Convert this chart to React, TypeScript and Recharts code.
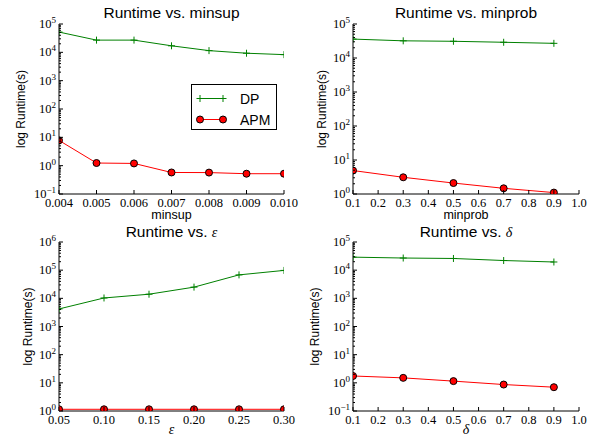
import React from "react";
import { LineChart, Line, XAxis, YAxis, Legend } from "recharts";

// values (log runtime in seconds)
const minsupX = [0.004, 0.005, 0.006, 0.007, 0.008, 0.009, 0.01];
const minsupDP = [52000, 27000, 27000, 17000, 11500, 9300, 8300];
const minsupAPM = [7.8, 1.24, 1.2, 0.575, 0.57, 0.52, 0.52];
const minsupTicks = [0.004, 0.005, 0.006, 0.007, 0.008, 0.009, 0.01];

const minprobX = [0.1, 0.3, 0.5, 0.7, 0.9];
const minprobDP = [36000, 32000, 31000, 29000, 27000];
const minprobAPM = [4.9, 3.1, 2.1, 1.47, 1.1];

const epsX = [0.05, 0.1, 0.15, 0.2, 0.25, 0.3];
const epsDP = [4200, 10300, 14000, 25000, 68000, 98000];
const epsAPM = [1.15, 1.15, 1.15, 1.15, 1.15, 1.15];
const epsTicks = [0.05, 0.1, 0.15, 0.2, 0.25, 0.3];

const deltaX = [0.1, 0.3, 0.5, 0.7, 0.9];
const deltaDP = [29000, 27000, 26000, 22000, 19500];
const deltaAPM = [1.75, 1.5, 1.15, 0.87, 0.7];

const probTicks = [0.1, 0.2, 0.3, 0.4, 0.5, 0.6, 0.7, 0.8, 0.9, 1.0];

const seriesOrder = ["DP", "APM"];

const GREEN = "#008000";
const RED = "#ff0000";
const SANS = "'Liberation Sans', Arial, sans-serif";
const SERIF = "'Liberation Serif', 'Times New Roman', serif";

function logTicks(lo: number, hi: number) {
  const out: number[] = [];
  const e0 = Math.round(Math.log10(lo));
  const e1 = Math.round(Math.log10(hi));
  for (let e = e0; e < e1; e++) {
    for (let m = 1; m < 10; m++) out.push(m * Math.pow(10, e));
  }
  out.push(hi);
  return out;
}

const isMajor = (v: number) =>
  Math.abs(Math.log10(v) - Math.round(Math.log10(v))) < 1e-6;

const LeftTick = (p: any) => {
  const { x, y, payload } = p;
  const v = payload.value;
  const major = isMajor(v);
  const exp = Math.round(Math.log10(v));
  return (
    <g>
      <line x1={x} x2={x + (major ? 4 : 2)} y1={y} y2={y} stroke="#000" />
      {major && (
        <text x={x - 3} y={y + 4} textAnchor="end" fontFamily={SERIF} fontSize={12.5} fill="#000">
          10
          <tspan dy={-5} fontSize={9}>
            {exp < 0 ? "\u2212" + -exp : String(exp)}
          </tspan>
        </text>
      )}
    </g>
  );
};

const RightTick = (p: any) => {
  const { x, y, payload } = p;
  const major = isMajor(payload.value);
  return <line x1={x} x2={x - (major ? 4 : 2)} y1={y} y2={y} stroke="#000" />;
};

const TopTick = (p: any) => {
  const { x, y } = p;
  return <line x1={x} x2={x} y1={y} y2={y + 4} stroke="#000" />;
};

const makeBottomTick = (digits: number) => (p: any) => {
  const { x, y, payload } = p;
  return (
    <g>
      <line x1={x} x2={x} y1={y} y2={y - 4} stroke="#000" />
      <text x={x} y={y + 12.5} textAnchor="middle" fontFamily={SERIF} fontSize={12.5} fill="#000">
        {payload.value.toFixed(digits)}
      </text>
    </g>
  );
};

const PlusDot = (p: any) => {
  const { cx, cy, index } = p;
  if (cx == null || cy == null) return <g key={`dp-${index}`} />;
  return (
    <path
      key={`dp-${index}`}
      d={`M${cx - 3.5},${cy}H${cx + 3.5}M${cx},${cy - 3.5}V${cy + 3.5}`}
      stroke={GREEN}
      strokeWidth={1}
      fill="none"
    />
  );
};

const LegendBox = ({ payload }: any) => {
  const items = [...(payload || [])].sort(
    (a: any, b: any) => seriesOrder.indexOf(a.value) - seriesOrder.indexOf(b.value)
  );
  return (
    <svg width={87} height={47} style={{ display: "block" }}>
      <rect x={0.5} y={0.5} width={85} height={45} fill="#fff" stroke="#000" />
      {items.map((entry: any, i: number) => {
        const cy = 14.5 + i * 21;
        const isDP = entry.value === "DP";
        return (
          <g key={entry.value}>
            <line x1={9} x2={32} y1={cy} y2={cy} stroke={isDP ? GREEN : RED} />
            {isDP ? (
              <path d={`M5.5,${cy}H12.5M9,${cy - 3.5}V${cy + 3.5}M28.5,${cy}H35.5M32,${cy - 3.5}V${cy + 3.5}`} stroke={GREEN} />
            ) : (
              <>
                <circle cx={9} cy={cy} r={3.5} fill={RED} stroke="#000" />
                <circle cx={32} cy={cy} r={3.5} fill={RED} stroke="#000" />
              </>
            )}
            <text x={49} y={cy + 5} fontFamily={SANS} fontSize={14} fill="#000">
              {entry.value}
            </text>
          </g>
        );
      })}
    </svg>
  );
};

interface PanelProps {
  left: number;
  top: number;
  width: number;
  height: number;
  margin: { top: number; right: number; bottom: number; left: number };
  title: React.ReactNode;
  xlabel: React.ReactNode;
  xlabelDy: number;
  ylabelDx: number;
  titleDy: number;
  xs: number[];
  dp: number[];
  apm: number[];
  xDomain: [number, number];
  xTicks: number[];
  digits: number;
  yDomain: [number, number];
  legend?: boolean;
}

const Y_W = 40;
const X_H = 20;

function Panel(props: PanelProps) {
  const { left, top, width, height, margin, xs, dp, apm, xDomain, xTicks, digits, yDomain } = props;
  const data = xs.map((x, i) => ({ x, DP: dp[i], APM: apm[i] }));
  const yTicks = logTicks(yDomain[0], yDomain[1]);
  const plotLeft = margin.left + Y_W;
  const plotRight = width - margin.right;
  const plotTop = margin.top;
  const plotBottom = height - margin.bottom - X_H;
  const cx = (plotLeft + plotRight) / 2;
  const cy = (plotTop + plotBottom) / 2;
  const ylx = plotLeft - props.ylabelDx;

  return (
    <div style={{ position: "absolute", left, top, width, height }}>
      <LineChart width={width} height={height} data={data} margin={margin}>
        <XAxis
          xAxisId="b"
          dataKey="x"
          type="number"
          domain={xDomain}
          ticks={xTicks}
          interval={0}
          allowDataOverflow
          height={X_H}
          tickSize={0}
          tickMargin={0}
          tickLine={false}
          axisLine={{ stroke: "#000" }}
          tick={makeBottomTick(digits)}
          label={() => (
            <text x={cx} y={plotBottom + props.xlabelDy} textAnchor="middle" fontFamily={SANS} fontSize={12.5} fill="#000">
              {props.xlabel}
            </text>
          )}
        />
        <XAxis
          xAxisId="t"
          orientation="top"
          dataKey="x"
          type="number"
          domain={xDomain}
          ticks={xTicks}
          interval={0}
          allowDataOverflow
          height={0}
          tickSize={0}
          tickMargin={0}
          tickLine={false}
          axisLine={{ stroke: "#000" }}
          tick={TopTick}
        />
        <YAxis
          yAxisId="l"
          type="number"
          scale="log"
          domain={yDomain}
          ticks={yTicks}
          interval={0}
          allowDataOverflow
          width={Y_W}
          tickSize={0}
          tickMargin={0}
          tickLine={false}
          axisLine={{ stroke: "#000" }}
          tick={LeftTick}
          label={() => (
            <g>
              <text
                x={ylx}
                y={cy}
                textAnchor="middle"
                fontFamily={SANS}
                fontSize={12}
                fill="#000"
                transform={`rotate(-90, ${ylx}, ${cy})`}
              >
                log Runtime(s)
              </text>
              <text x={cx} y={plotTop + props.titleDy} textAnchor="middle" fontFamily={SANS} fontSize={15.5} fill="#000">
                {props.title}
              </text>
            </g>
          )}
        />
        <YAxis
          yAxisId="r"
          orientation="right"
          type="number"
          scale="log"
          domain={yDomain}
          ticks={yTicks}
          interval={0}
          allowDataOverflow
          width={0}
          tickSize={0}
          tickMargin={0}
          tickLine={false}
          axisLine={{ stroke: "#000" }}
          tick={RightTick}
        />
        <Line
          xAxisId="b"
          yAxisId="l"
          type="linear"
          dataKey="DP"
          name="DP"
          stroke={GREEN}
          strokeWidth={1}
          dot={PlusDot}
          activeDot={false}
          isAnimationActive={false}
        />
        <Line
          xAxisId="b"
          yAxisId="l"
          type="linear"
          dataKey="APM"
          name="APM"
          stroke={RED}
          strokeWidth={1}
          dot={{ r: 3.5, fill: RED, stroke: "#000", strokeWidth: 1 }}
          activeDot={false}
          isAnimationActive={false}
        />
        {props.legend && (
          <Legend
            layout="vertical"
            align="center"
            verticalAlign="middle"
            width={87}
            height={47}
            wrapperStyle={{ left: 191, top: 84, width: 87, height: 47 }}
            content={(p: any) => <LegendBox payload={p.payload} />}
          />
        )}
      </LineChart>
    </div>
  );
}

const italic = (s: string) => (
  <tspan fontFamily={SERIF} fontStyle="italic" fontSize={14}>
    {s}
  </tspan>
);

export default function App() {
  return (
    <div style={{ position: "absolute", left: 0, top: 0, width: 594, height: 439, background: "#fff" }}>
      <Panel
        left={0}
        top={0}
        width={310}
        height={226}
        margin={{ top: 24, right: 26, bottom: 12, left: 19 }}
        title="Runtime vs. minsup"
        titleDy={-6}
        xlabel="minsup"
        xlabelDy={25}
        ylabelDx={34}
        xs={minsupX}
        dp={minsupDP}
        apm={minsupAPM}
        xDomain={[0.004, 0.01]}
        xTicks={minsupTicks}
        digits={3}
        yDomain={[0.1, 100000]}
        legend
      />
      <Panel
        left={297}
        top={0}
        width={297}
        height={226}
        margin={{ top: 24, right: 15, bottom: 12, left: 16 }}
        title="Runtime vs. minprob"
        titleDy={-6}
        xlabel="minprob"
        xlabelDy={25}
        ylabelDx={27}
        xs={minprobX}
        dp={minprobDP}
        apm={minprobAPM}
        xDomain={[0.1, 1.0]}
        xTicks={probTicks}
        digits={1}
        yDomain={[1, 100000]}
      />
      <Panel
        left={0}
        top={220}
        width={310}
        height={219}
        margin={{ top: 22, right: 26, bottom: 8, left: 19 }}
        title={<>Runtime vs. {italic("\u03b5")}</>}
        titleDy={-5}
        xlabel={italic("\u03b5")}
        xlabelDy={23}
        ylabelDx={27}
        xs={epsX}
        dp={epsDP}
        apm={epsAPM}
        xDomain={[0.05, 0.3]}
        xTicks={epsTicks}
        digits={2}
        yDomain={[1, 1000000]}
      />
      <Panel
        left={297}
        top={220}
        width={297}
        height={219}
        margin={{ top: 22, right: 15, bottom: 8, left: 16 }}
        title={<>Runtime vs. {italic("\u03b4")}</>}
        titleDy={-5}
        xlabel={italic("\u03b4")}
        xlabelDy={23}
        ylabelDx={34}
        xs={deltaX}
        dp={deltaDP}
        apm={deltaAPM}
        xDomain={[0.1, 1.0]}
        xTicks={probTicks}
        digits={1}
        yDomain={[0.1, 100000]}
      />
    </div>
  );
}
